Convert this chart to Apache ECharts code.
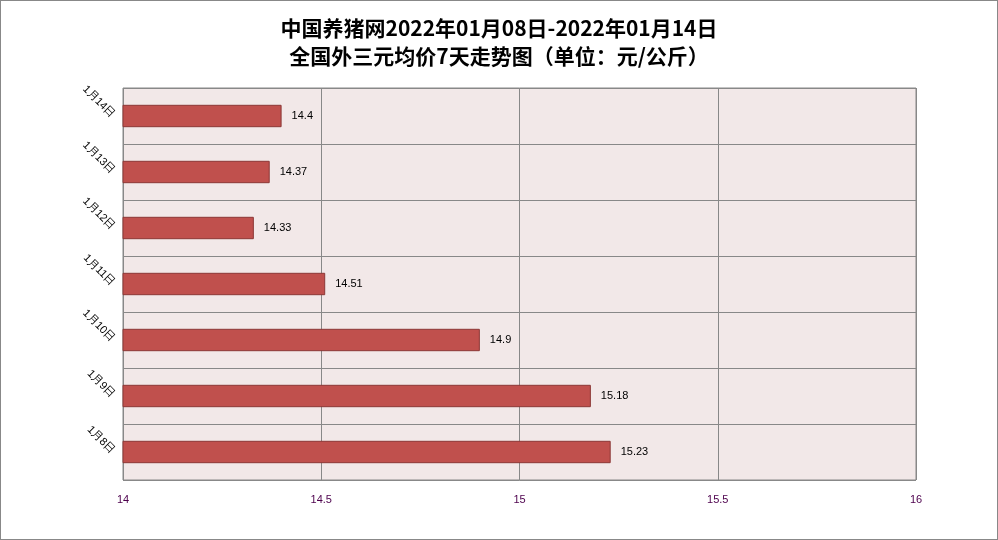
<!DOCTYPE html><html><head><meta charset="utf-8"><script src="https://cdn.jsdelivr.net/npm/echarts@6/dist/echarts.min.js"></script></head><body style="margin:0"><div id="c" style="width:998px;height:540px;box-sizing:border-box;border:1px solid #888"></div><script>
const categories=['1月8日','1月9日','1月10日','1月11日','1月12日','1月13日','1月14日'];
const values=[15.23,15.18,14.9,14.51,14.33,14.37,14.4];
const chart=echarts.init(document.getElementById('c'));
chart.setOption({
title:{text:'中国养猪网2022年01月08日-2022年01月14日\n全国外三元均价7天走势图（单位：元/公斤）',left:'center',top:8,textStyle:{fontSize:21,fontWeight:'bold',color:'#000',lineHeight:28,fontFamily:'Noto Sans CJK SC'}},
grid:{left:122,right:81,top:87,bottom:59,show:true,backgroundColor:'#f2e8e8',borderColor:'#888',borderWidth:1},
xAxis:{type:'value',min:14,max:16,interval:0.5,axisLine:{show:false},axisTick:{show:false},axisLabel:{color:'#4d004d',fontSize:11,margin:14},splitLine:{lineStyle:{color:'#888'}}},
yAxis:{type:'category',data:categories,axisLine:{show:false},axisTick:{show:false},axisLabel:{rotate:-45,fontSize:11,color:'#000',margin:10},splitLine:{show:true,interval:0,lineStyle:{color:'#888'}}},
series:[{type:'bar',data:values,barWidth:'40%',itemStyle:{color:'#c0504d',borderColor:'#8c3836',borderWidth:1},label:{show:true,position:'right',fontSize:11,color:'#000',distance:10}}]
});
</script></body></html>
